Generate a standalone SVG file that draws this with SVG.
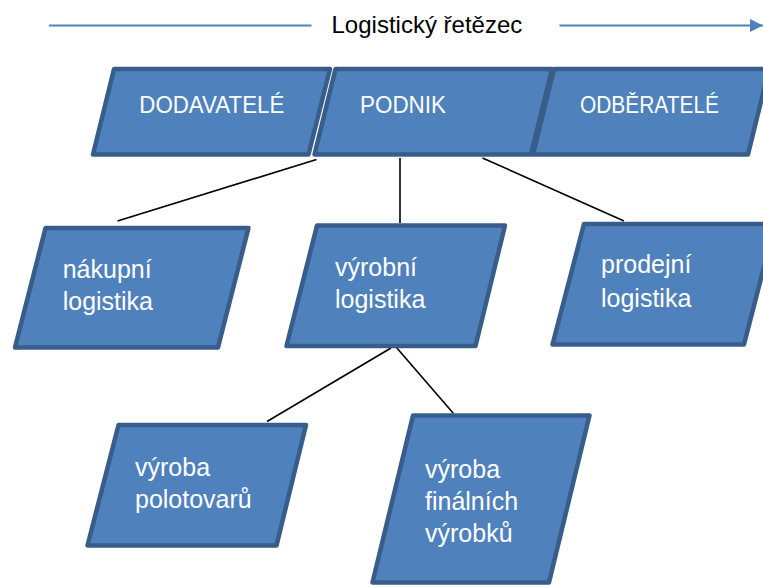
<svg xmlns="http://www.w3.org/2000/svg" width="763" height="585" viewBox="0 0 763 585">
  <style>
    .box { fill: #4F81BD; stroke: #385D8A; stroke-width: 4.5; stroke-linejoin: round; }
    .cap { font-family: "Liberation Sans", Arial, sans-serif; font-size: 23px; fill: #FFFFFF; }
    .lbl { font-family: "Liberation Sans", Arial, sans-serif; font-size: 25px; fill: #FFFFFF; }
    .title { font-family: "Liberation Sans", Arial, sans-serif; font-size: 24px; fill: #000000; }
    .link { stroke: #000000; stroke-width: 1.6; fill: none; }
    .chain { stroke: #4F81BD; stroke-width: 2; fill: none; }
  </style>
  <defs>
    <marker id="chainHead" markerWidth="13" markerHeight="13" refX="13" refY="6.5" orient="auto" markerUnits="userSpaceOnUse">
      <polygon points="0,0 13,6.5 0,13" fill="#4F81BD"/>
    </marker>
  </defs>
  <rect width="763" height="585" fill="#FFFFFF"/>

  <!-- logistics chain heading with arrow -->
  <g id="chain">
    <line class="chain" x1="49" y1="25.5" x2="311.5" y2="25.5"/>
    <line class="chain" x1="559.5" y1="25.5" x2="763" y2="25.5" marker-end="url(#chainHead)"/>
    <text class="title" x="331.5" y="33.3">Logistický řetězec</text>
  </g>

  <!-- connectors -->
  <g id="connectors">
    <line class="link" x1="316.5" y1="159.5" x2="117.5" y2="221"/>
    <line class="link" x1="400" y1="158" x2="400" y2="223"/>
    <line class="link" x1="482.5" y1="158" x2="624" y2="221"/>
    <line class="link" x1="391" y1="348" x2="267" y2="421.5"/>
    <line class="link" x1="396" y1="347" x2="453.5" y2="413.5"/>
  </g>

  <!-- top row -->
  <g id="dodavatele">
    <polygon class="box" points="114,69 330,69 308.5,154.5 93,154.5"/>
    <text class="cap" x="139.3" y="113" textLength="145" lengthAdjust="spacingAndGlyphs">DODAVATELÉ</text>
  </g>
  <g id="podnik">
    <polygon class="box" points="335.5,69 552,69 531,154.5 314.5,154.5"/>
    <text class="cap" x="360" y="113" textLength="86" lengthAdjust="spacingAndGlyphs">PODNIK</text>
  </g>
  <g id="odberatele">
    <polygon class="box" points="554,69 769,69 748,154.5 533,154.5"/>
    <text class="cap" x="580" y="113" textLength="139" lengthAdjust="spacingAndGlyphs">ODBĚRATELÉ</text>
  </g>

  <!-- middle row -->
  <g id="nakupni">
    <polygon class="box" points="45.5,228 248.5,228 218,347.5 15,347.5"/>
    <text class="lbl" x="62.7" y="278.3">nákupní</text>
    <text class="lbl" x="62.7" y="310">logistika</text>
  </g>
  <g id="vyrobni">
    <polygon class="box" points="317,225.5 505,225.5 475.5,346 286.5,346"/>
    <text class="lbl" x="335" y="276">výrobní</text>
    <text class="lbl" x="335" y="308.3">logistika</text>
  </g>
  <g id="prodejni">
    <polygon class="box" points="584,224 775,224 744,344.5 552.5,344.5"/>
    <text class="lbl" x="601" y="273.3">prodejní</text>
    <text class="lbl" x="601" y="306.5">logistika</text>
  </g>

  <!-- bottom row -->
  <g id="polotovary">
    <polygon class="box" points="118.5,425 306,425 276.5,545.5 87.5,545.5"/>
    <text class="lbl" x="135" y="476">výroba</text>
    <text class="lbl" x="135" y="508.3">polotovarů</text>
  </g>
  <g id="finalni">
    <polygon class="box" points="413,415.5 589.5,415.5 549,582.5 372.5,582.5"/>
    <text class="lbl" x="425" y="478.3">výroba</text>
    <text class="lbl" x="425" y="510">finálních</text>
    <text class="lbl" x="425" y="541.5">výrobků</text>
  </g>
</svg>
